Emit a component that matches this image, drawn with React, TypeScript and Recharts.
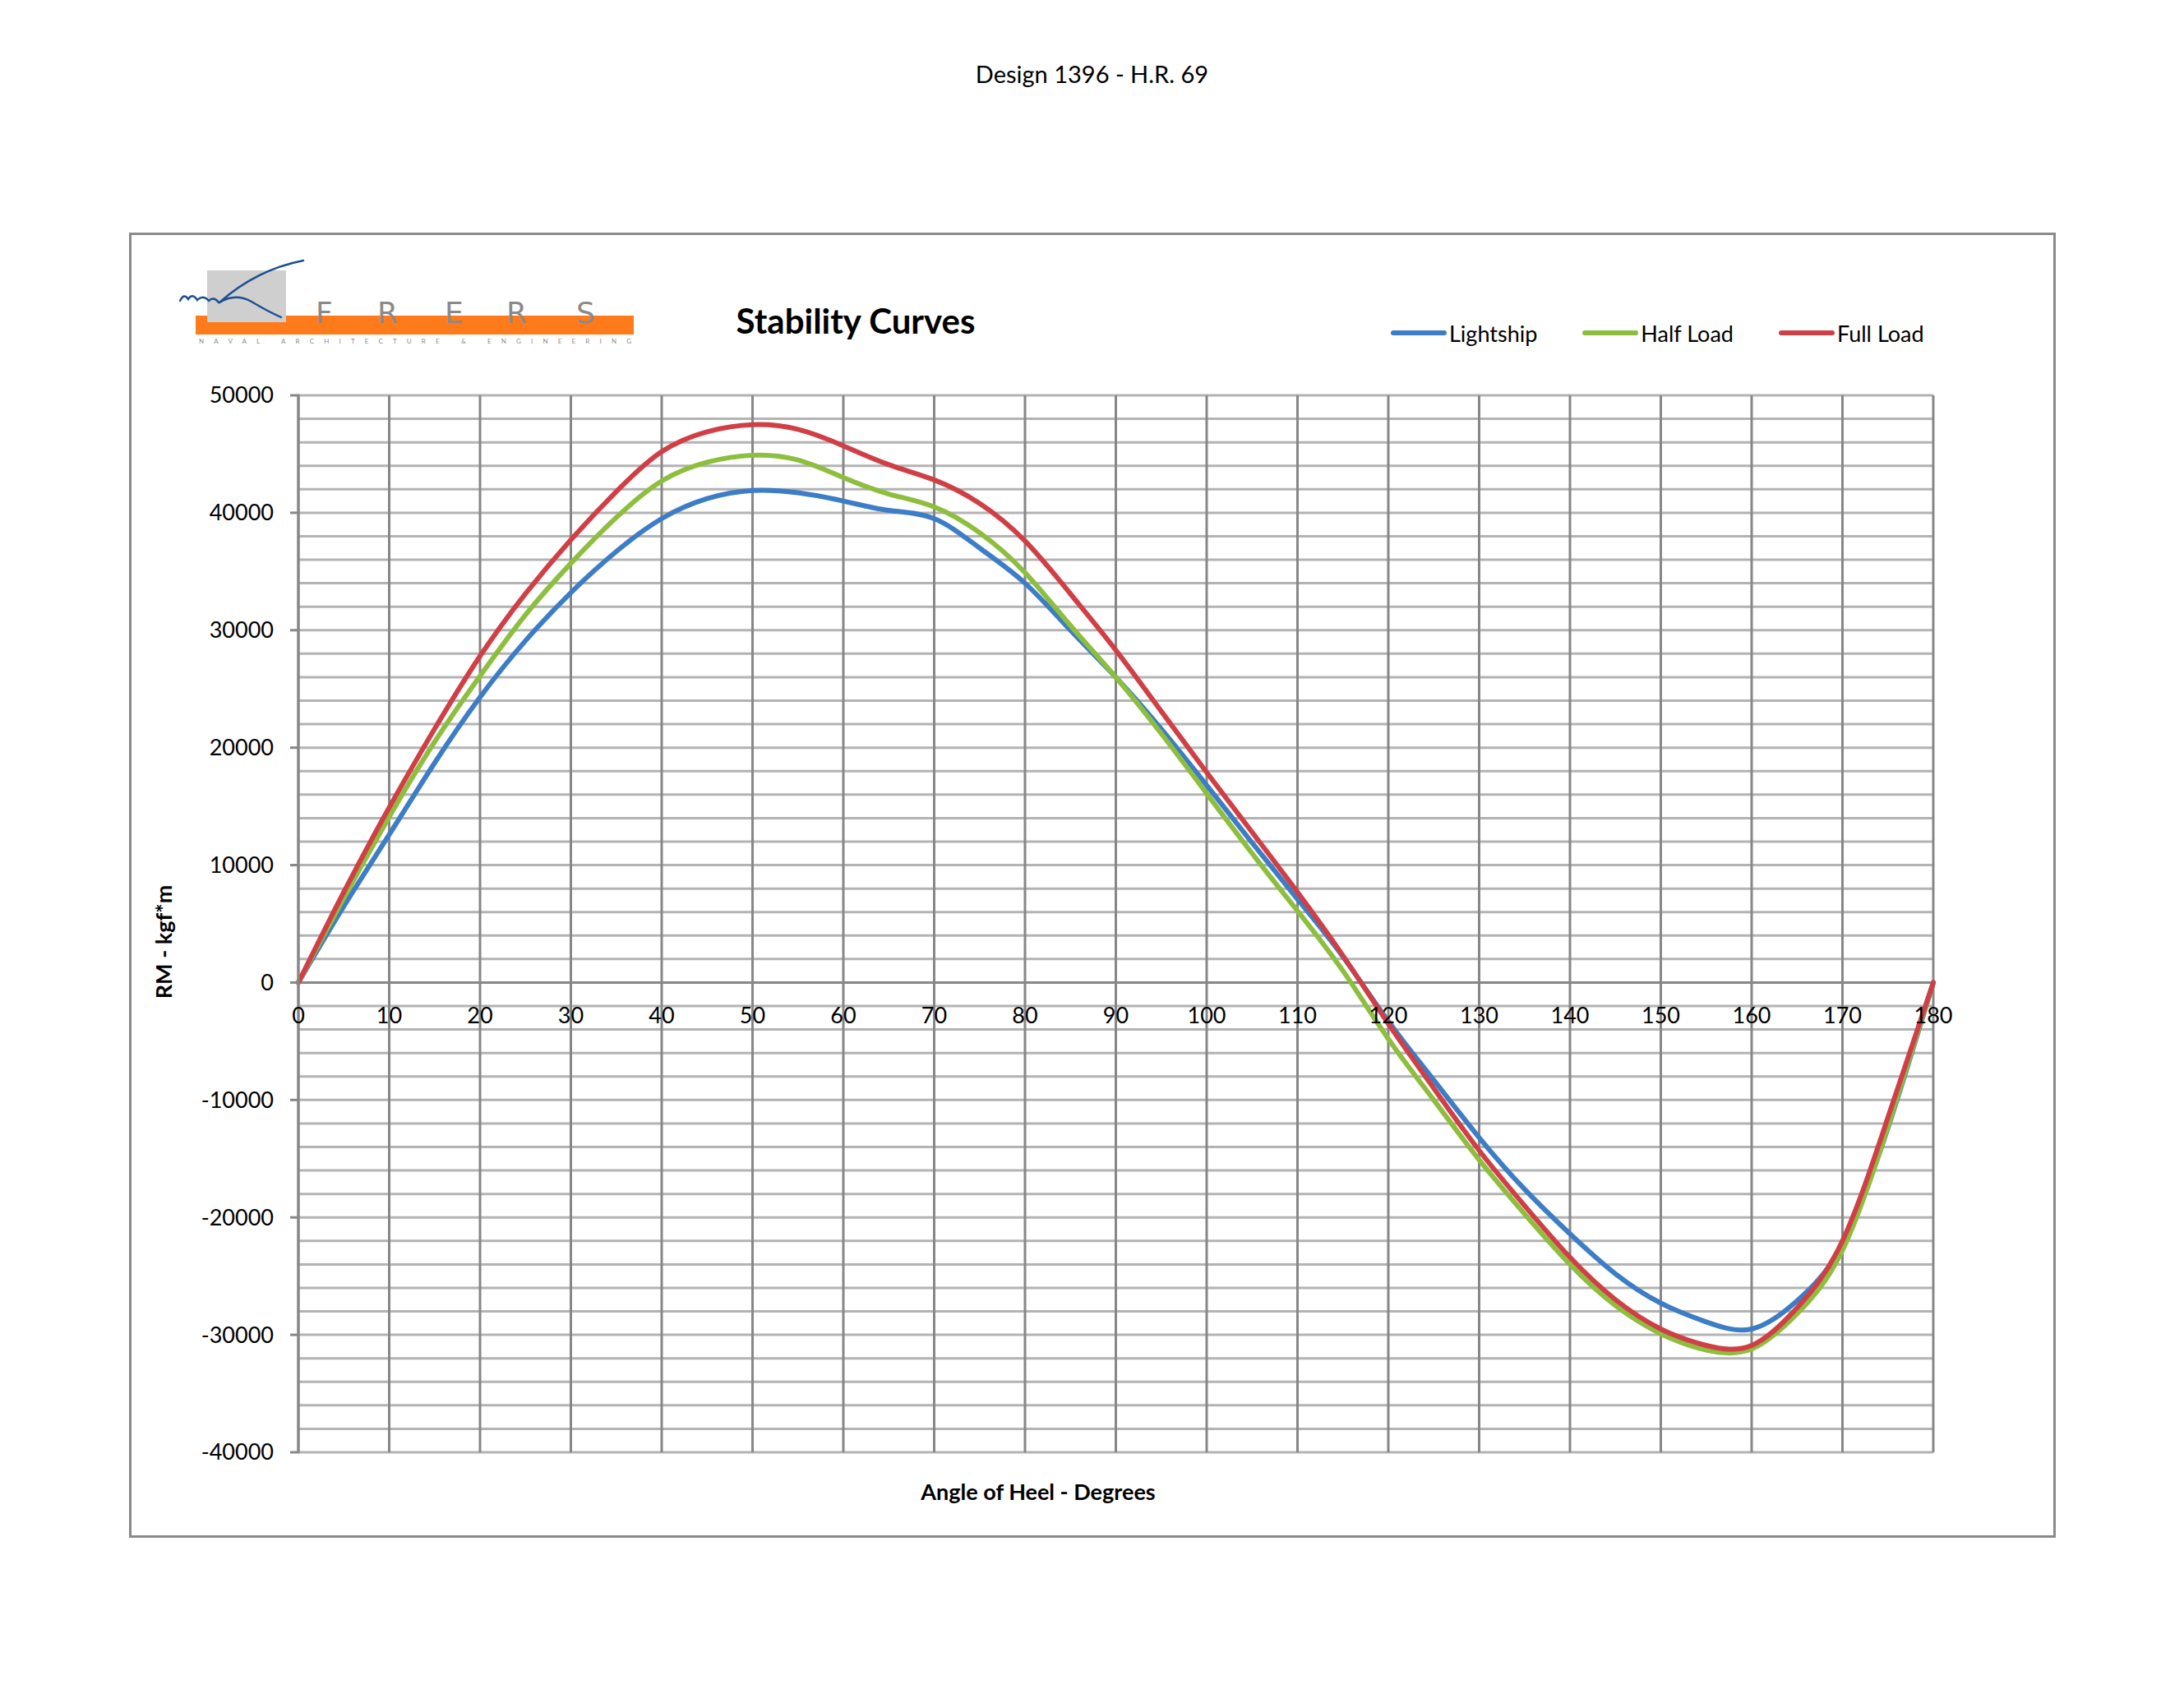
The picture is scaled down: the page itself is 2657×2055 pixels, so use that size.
import React from 'react';
import { LineChart, Line, XAxis, YAxis, CartesianGrid, Legend, ReferenceLine, ReferenceDot } from 'recharts';

// Righting moment (kgf*m) per heel angle
const ANGLES = [0, 5, 10, 15, 20, 25, 30, 35, 40, 45, 50, 55, 60, 65, 70, 75, 80, 85, 90, 95, 100, 105, 110, 115, 120, 125, 130, 135, 140, 145, 150, 155, 160, 165, 170, 175, 180];
const LIGHTSHIP = [0, 6500, 12600, 18700, 24300, 29100, 33200, 36700, 39500, 41200, 41900, 41700, 41000, 40200, 39500, 37000, 34000, 30000, 26000, 21600, 16800, 11900, 7100, 2200, -3300, -8300, -13200, -17600, -21400, -24800, -27300, -28900, -29500, -27100, -22300, -12400, 0];
const HALF_LOAD = [0, 7200, 14100, 20500, 26100, 31300, 35700, 39600, 42700, 44300, 44900, 44500, 43000, 41600, 40500, 38300, 34900, 30400, 26000, 21200, 16100, 11000, 6100, 1000, -4800, -10000, -15100, -19700, -24000, -27500, -29900, -31300, -31200, -28200, -22800, -12300, 0];
const FULL_LOAD = [0, 7700, 14900, 21600, 27800, 33100, 37700, 41800, 45200, 46900, 47500, 47100, 45700, 44100, 42800, 40800, 37600, 33100, 28300, 23100, 17900, 12800, 7700, 2300, -3500, -9000, -14300, -19000, -23400, -27000, -29500, -30900, -30900, -27700, -22000, -11500, 0];

const X_TICKS = [0, 10, 20, 30, 40, 50, 60, 70, 80, 90, 100, 110, 120, 130, 140, 150, 160, 170, 180];
const Y_LABELS = [50000, 40000, 30000, 20000, 10000, 0, -10000, -20000, -30000, -40000];
// minor gridlines every 2000
const Y_GRID = Array.from({ length: 46 }, (_, i) => -40000 + i * 2000);

const SERIES = [
  { key: 'light', name: 'Lightship', color: '#3D7DC6' },
  { key: 'half', name: 'Half Load', color: '#8DBE3E' },
  { key: 'full', name: 'Full Load', color: '#D03F45' },
];

const data = ANGLES.map((angle, i) => ({
  angle,
  light: LIGHTSHIP[i],
  half: HALF_LOAD[i],
  full: FULL_LOAD[i],
}));

const FONT = 'Lato, "Open Sans", sans-serif';
const GRID_DARK = '#878787';
const GRID_LIGHT = '#b3b3b3';

const YTick = (props: any) => {
  const { x, y, payload } = props;
  if (!Y_LABELS.includes(payload.value)) return null;
  return (
    <g>
      <line x1={x + 20} x2={x + 31} y1={y} y2={y} stroke={GRID_DARK} strokeWidth={3} />
      <text x={x} y={y} dy="0.35em" textAnchor="end" fontSize={27} fill="#000">
        {payload.value}
      </text>
    </g>
  );
};

const NoTick = () => null;

const XTitle = (props: any) => {
  const vb = props.viewBox || { x: 363, y: 1767, width: 1989, height: 60 };
  return (
    <text x={vb.x + 900} y={vb.y + 47} textAnchor="middle" dominantBaseline="central" fontSize={27} fontWeight="bold" fill="#000">
      Angle of Heel - Degrees
    </text>
  );
};

const YTitle = (props: any) => {
  const vb = props.viewBox || { x: 243, y: 481, width: 120, height: 1286 };
  const cx = vb.x - 45;
  const cy = vb.y + vb.height / 2 + 22;
  return (
    <text x={cx} y={cy} transform={`rotate(-90 ${cx} ${cy})`} textAnchor="middle" dominantBaseline="central" fontSize={27} fontWeight="bold" fill="#000">
      RM - kgf*m
    </text>
  );
};

const renderLegend = () => (
  <div style={{ display: 'flex', alignItems: 'center', height: 40, fontFamily: FONT }}>
    {SERIES.map(s => (
      <div key={s.key} style={{ display: 'flex', alignItems: 'center', marginRight: 55 }}>
        <svg width={68} height={10}>
          <line x1={3} x2={65} y1={5} y2={5} stroke={s.color} strokeWidth={6} strokeLinecap="round" />
        </svg>
        <span style={{ fontSize: 27, color: '#000', marginLeft: 3, whiteSpace: 'nowrap' }}>{s.name}</span>
      </div>
    ))}
  </div>
);

const Logo = () => (
  <svg width={2657} height={2055} style={{ position: 'absolute', left: 0, top: 0, pointerEvents: 'none' }}>
    <rect x={238} y={384} width={533} height={23} fill="#FF7A1A" />
    <rect x={252} y={329} width={96} height={63} fill="#CFCFCF" />
    <text x="384 459 541 616 701" y={393} fontSize={36} fill="#8a8a8a" fontFamily="DejaVu Sans, Lato, sans-serif">FRERS</text>
    <text x={242} y={418} fontSize={8} fill="#8c8c8c" textLength={526} lengthAdjust="spacing" fontFamily={FONT}>
      NAVAL ARCHITECTURE &amp; ENGINEERING
    </text>
    <g fill="none" stroke="#1C4F91" strokeWidth={2.4} strokeLinecap="round">
      <path d="M369,317 Q312,328 267,368" />
      <path d="M267,368 Q286,356 306,367 Q326,379 342,386" />
      <path d="M219,366 Q224,356 229,364 Q234,356 240,365 Q247,358 254,366 Q260,360 266,368" />
    </g>
    <text x={1041} y={390} textAnchor="middle" dominantBaseline="central" fontSize={42} fontWeight="bold" fill="#000" fontFamily={FONT}>
      Stability Curves
    </text>
  </svg>
);

export default function App() {
  return (
    <div style={{ position: 'absolute', left: 0, top: 0, width: 2657, height: 2055, background: '#fff', fontFamily: FONT }}>
      <div style={{ position: 'absolute', left: 0, top: 72, width: 2657, textAlign: 'center', fontSize: 29, lineHeight: '36px', color: '#000' }}>
        Design 1396 - H.R. 69
      </div>
      <div style={{ position: 'absolute', left: 157, top: 283, width: 2338, height: 1582, border: '3px solid #8a8a8a' }} />
      <LineChart
        width={2657}
        height={2055}
        data={data}
        margin={{ top: 481, right: 305, bottom: 228, left: 243 }}
        style={{ position: 'absolute', left: 0, top: 0, fontFamily: FONT }}
      >
        <CartesianGrid vertical={false} stroke={GRID_LIGHT} strokeWidth={3} />
        <CartesianGrid horizontal={false} stroke={GRID_DARK} strokeWidth={3} />
        <XAxis
          type="number"
          dataKey="angle"
          domain={[0, 180]}
          ticks={X_TICKS}
          interval={0}
          height={60}
          axisLine={false}
          tickLine={false}
          tick={NoTick}
          label={XTitle}
        />
        <YAxis
          type="number"
          domain={[-40000, 50000]}
          ticks={Y_GRID}
          interval={0}
          width={120}
          tickSize={10}
          tickMargin={20}
          tickLine={false}
          axisLine={{ stroke: GRID_DARK, strokeWidth: 3 }}
          tick={YTick}
          allowDataOverflow
          label={YTitle}
        />
        <ReferenceLine y={0} stroke={GRID_DARK} strokeWidth={3} />
        {X_TICKS.map(t => (
          <ReferenceDot
            key={t}
            x={t}
            y={0}
            r={0}
            fill="none"
            stroke="none"
            label={{ value: String(t), position: 'bottom', offset: 30, fontSize: 27, fill: '#000' }}
          />
        ))}
        <Legend
          layout="horizontal"
          verticalAlign="middle"
          align="center"
          content={renderLegend}
          wrapperStyle={{ left: 1692, top: 385, width: 800, height: 40 }}
        />
        {SERIES.map(s => (
          <Line
            key={s.key}
            type="natural"
            dataKey={s.key}
            name={s.name}
            stroke={s.color}
            strokeWidth={6}
            strokeLinecap="round"
            strokeLinejoin="round"
            dot={false}
            activeDot={false}
            isAnimationActive={false}
          />
        ))}
      </LineChart>
      <Logo />
    </div>
  );
}
